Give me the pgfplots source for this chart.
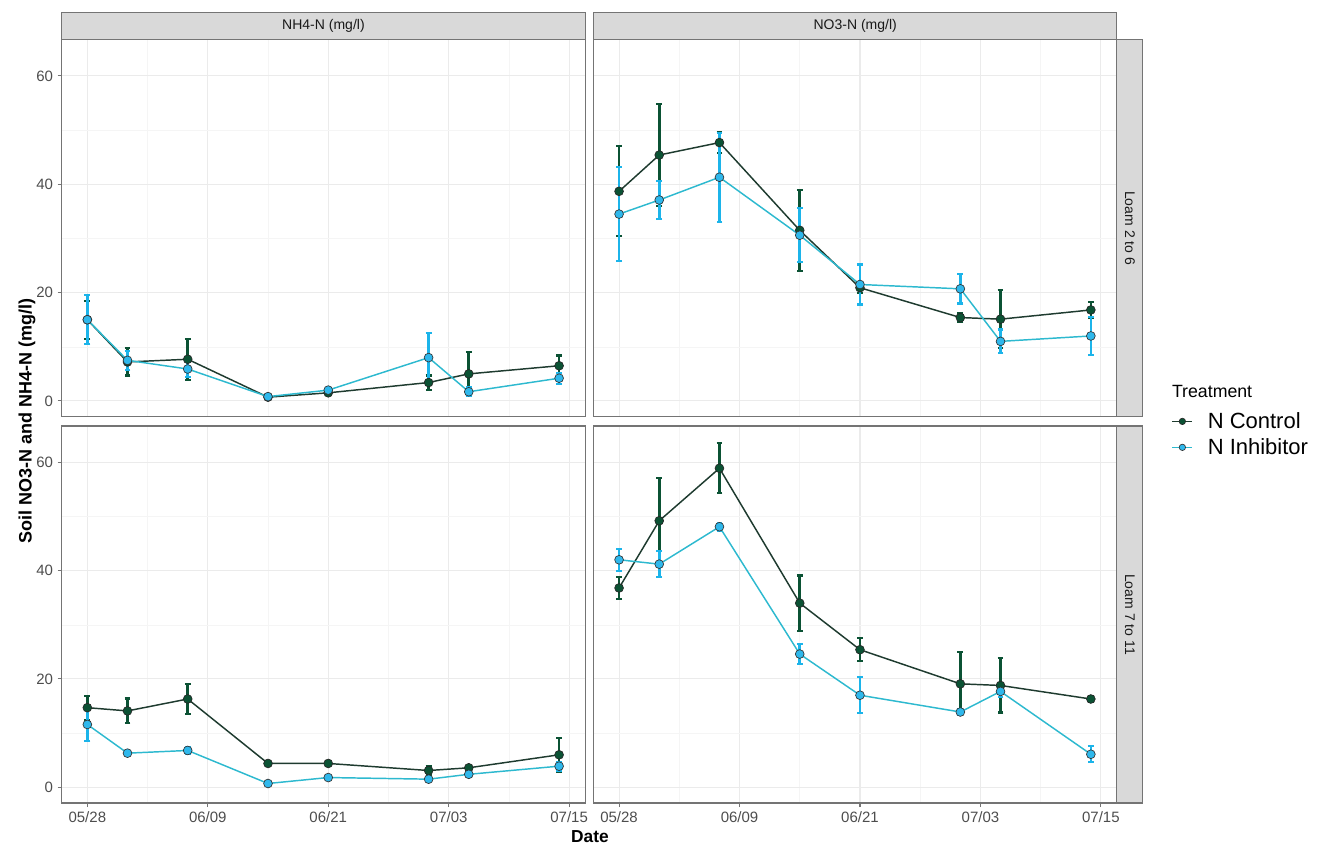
\documentclass[border=0pt]{standalone}
\usepackage{pgfplots}
\usepackage{pgfplotstable}
\pgfplotsset{compat=1.18}
\usetikzlibrary{calc}
\usepackage{fontspec}
\setmainfont{Liberation Sans}

\definecolor{ctrl}{HTML}{0B5234}
\definecolor{ctrlline}{HTML}{1E3B2F}
\definecolor{inh}{HTML}{1CB4EA}
\definecolor{inhline}{HTML}{2DB9CF}
\definecolor{inhfill}{HTML}{2FB8EC}
\definecolor{gridmaj}{HTML}{EBEBEB}
\definecolor{gridmin}{HTML}{F5F5F5}
\definecolor{panelborder}{HTML}{747474}
\definecolor{stripfill}{HTML}{D9D9D9}
\definecolor{ticklab}{HTML}{4D4D4D}

% d = days since 05/28 ; c = N Control ; i = N Inhibitor ; ce, ie = error
\pgfplotstableread{
d c ce i ie
0 15.0 3.5 15.0 4.5
4 7.2 2.5 7.5 1.8
10 7.7 3.8 5.9 1.5
18 0.7 0.3 0.8 0.3
24 1.5 0.3 2.0 0.4
34 3.4 1.3 8.0 4.5
38 5.0 4.1 1.7 0.8
47 6.5 1.9 4.2 1.0
}\tlTable
\pgfplotstableread{
d c ce i ie
0 38.7 8.3 34.5 8.7
4 45.4 9.4 37.1 3.5
10 47.7 2.0 41.3 8.2
18 31.5 7.5 30.6 5.0
24 20.9 1.0 21.5 3.7
34 15.4 0.8 20.7 2.7
38 15.1 5.4 11.0 2.2
47 16.8 1.4 12.0 3.5
}\trTable
\pgfplotstableread{
d c ce i ie
0 14.7 2.2 11.6 3.0
4 14.1 2.3 6.3 0.4
10 16.3 2.7 6.8 0.7
18 4.4 0.5 0.7 0.2
24 4.4 0.5 1.8 0.2
34 3.1 0.8 1.5 0.3
38 3.6 0.3 2.4 0.3
47 6.0 3.1 3.9 0.8
}\blTable
\pgfplotstableread{
d c ce i ie
0 36.8 2.0 42.0 2.0
4 49.2 7.9 41.2 2.4
10 58.9 4.6 48.1 0.7
18 34.0 5.1 24.6 1.9
24 25.4 2.1 17.0 3.3
34 19.1 5.8 13.9 0.5
38 18.8 5.0 17.7 1.0
47 16.3 0.6 6.1 1.5
}\brTable

\pgfplotsset{
  panel/.style={
    scale only axis, width=392.6pt, height=282.75pt, anchor=south west,
    xmin=-2.55, xmax=49.6, ymin=-2.9, ymax=66.7,
    xtick={0,12,24,36,48}, minor xtick={6,18,30,42},
    ytick={0,20,40,60}, minor ytick={10,30,50},
    xticklabels={05/28,06/09,06/21,07/03,07/15},
    grid=both,
    major grid style={gridmaj, line width=0.8pt},
    minor grid style={gridmin, line width=0.4pt},
    axis line style={panelborder, line width=0.8pt},
    tick align=outside, tick pos=left,
    major tick length=3pt, minor tick length=0pt,
    tick style={panelborder, line width=0.8pt},
    ticklabel style={font=\fontsize{11.25}{13}\selectfont, text=ticklab},
    /pgf/number format/assume math mode=true,
  },
  nox/.style={xticklabels={}, xtick style={draw=none}},
  noy/.style={yticklabels={}, ytick style={draw=none}},
  cbars/.style={forget plot, draw=none, mark=none,
    error bars/.cd, y dir=both, y explicit,
    error bar style={draw=ctrl, line width=2pt},
    error mark options={draw=ctrl, line width=1.6pt, mark size=2.2pt, rotate=90}},
  ibars/.style={forget plot, draw=none, mark=none,
    error bars/.cd, y dir=both, y explicit,
    error bar style={draw=inh, line width=2pt},
    error mark options={draw=inh, line width=1.6pt, mark size=2.2pt, rotate=90}},
  cline/.style={ctrlline, line width=1.1pt, mark=*, mark size=3.3pt,
    mark options={fill=ctrl, draw=black!85, line width=0.5pt}},
  iline/.style={inhline, line width=1.1pt, mark=*, mark size=3.3pt,
    mark options={fill=inhfill, draw=black!80, line width=0.5pt}},
}

\newcommand{\panelplots}[1]{%
  \addplot[cbars] table[x=d, y=c, y error=ce]{#1};
  \addplot[ibars] table[x=d, y=i, y error=ie]{#1};
  \addplot[cline] table[x=d, y=c]{#1};
  \addplot[iline] table[x=d, y=i]{#1};
}

\begin{document}
\begin{tikzpicture}
\useasboundingbox (0,0) rectangle (992.25pt,637.5pt);

\begin{axis}[panel, nox, name=tl, at={(46.3pt,325.0pt)}]
\panelplots{\tlTable}
\end{axis}

\begin{axis}[panel, nox, noy, name=tr, at={(445.1pt,325.0pt)},
  legend style={at={(1.104,0.019)}, anchor=north west, draw=none, fill=none,
    font=\fontsize{16.5}{18}\selectfont, row sep=2pt, inner sep=0pt,
    cells={anchor=west},
    /tikz/every odd column/.append style={column sep=9pt}},
  legend image code/.code={\draw[mark repeat=2, mark phase=2, #1, mark size=2.4pt]
    plot coordinates {(0pt,0pt) (7.5pt,0pt) (15pt,0pt)};}]
\panelplots{\trTable}
\legend{N Control, N Inhibitor}
\end{axis}

\begin{axis}[panel, name=bl, at={(46.3pt,35.25pt)}]
\panelplots{\blTable}
\end{axis}

\begin{axis}[panel, noy, name=br, at={(445.1pt,35.25pt)}]
\panelplots{\brTable}
\end{axis}

% facet strips
\foreach \ax/\lab in {tl/{NH4-N (mg/l)}, tr/{NO3-N (mg/l)}}{
  \draw[fill=stripfill, draw=panelborder, line width=0.8pt]
    (\ax.north west) rectangle ([yshift=20.25pt]\ax.north east);
  \node[font=\fontsize{10.5}{12}\selectfont, text=black!90]
    at ([yshift=10.1pt]\ax.north) {\lab};
}
\foreach \ax/\lab in {tr/{Loam 2 to 6}, br/{Loam 7 to 11}}{
  \draw[fill=stripfill, draw=panelborder, line width=0.8pt]
    (\ax.north east) rectangle ([xshift=19.5pt]\ax.south east);
  \node[font=\fontsize{10.5}{12}\selectfont, text=black!90, rotate=-90]
    at ([xshift=9.75pt]\ax.east) {\lab};
}

% axis titles
\node[font=\fontsize{13.5}{15}\selectfont\bfseries, rotate=90] at (20.25pt,321.4pt)
  {Soil NO3-N and NH4-N (mg/l)};
\node[font=\fontsize{13}{15}\selectfont\bfseries] at (442.5pt,9.75pt) {Date};

% legend title
\node[font=\fontsize{13.3}{15}\selectfont, anchor=west, inner sep=0pt]
  at (878.8pt,343.7pt) {Treatment};
\end{tikzpicture}
\end{document}
